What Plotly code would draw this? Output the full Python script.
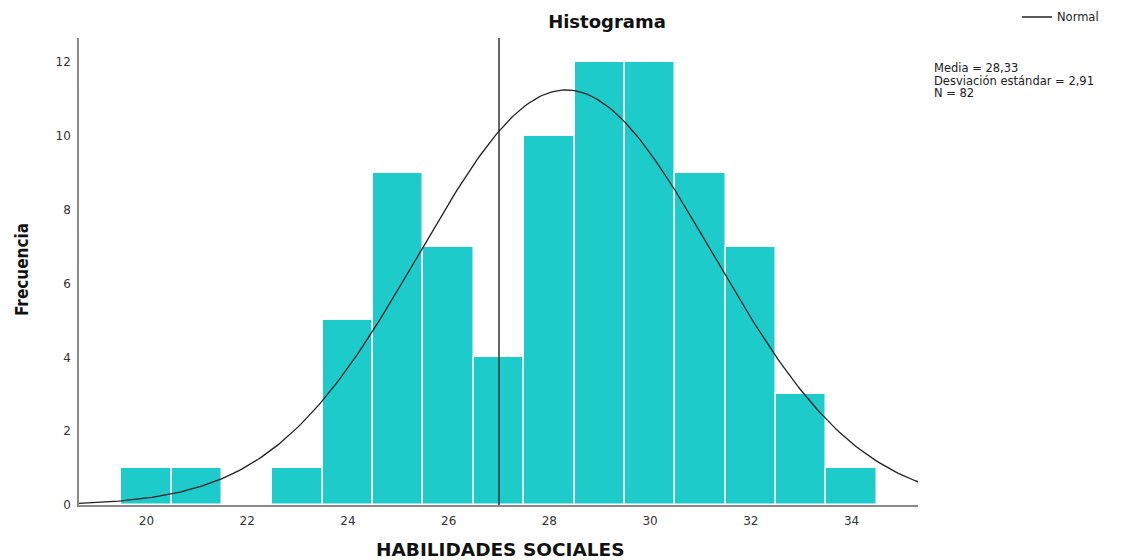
import numpy as np
import plotly.graph_objects as go

# datos del histograma
valores = [20, 21, 22, 23, 24, 25, 26, 27, 28, 29, 30, 31, 32, 33, 34]
frecuencias = [1, 1, 0, 1, 5, 9, 7, 4, 10, 12, 12, 9, 7, 3, 1]
media = 28.33
desviacion = 2.91
n_total = 82
valor_referencia = 27
x_ticks = [20, 22, 24, 26, 28, 30, 32, 34]
y_ticks = [0, 2, 4, 6, 8, 10, 12]

x_min, x_max = 18.66, 35.32
y_max = 12.65

fuente = "DejaVu Sans, Liberation Sans, Arial, sans-serif"

# curva normal a partir de media, desviación y N (ancho de intervalo = 1)
xs = np.linspace(x_min, x_max, 300)
ys = n_total * 1.0 / (desviacion * np.sqrt(2 * np.pi)) * np.exp(-0.5 * ((xs - media) / desviacion) ** 2)

fig = go.Figure()
fig.add_trace(go.Bar(
    x=valores, y=frecuencias, width=1,
    marker=dict(color="#1DCBCB", line=dict(color="white", width=1.5)),
    showlegend=False, hoverinfo="x+y",
))
fig.add_trace(go.Scatter(
    x=[valor_referencia, valor_referencia], y=[0, y_max], mode="lines",
    line=dict(color="#333333", width=1.5), showlegend=False,
))
fig.add_trace(go.Scatter(
    x=xs, y=ys, mode="lines", name="Normal",
    line=dict(color="#222222", width=1.3),
))

# la página deja 8px de margen en el body: se compensa aquí
fig.update_layout(
    width=1115, height=552,
    margin=dict(l=71, r=205, t=30, b=55, autoexpand=False),
    plot_bgcolor="white", paper_bgcolor="white",
    font=dict(family=fuente, size=12, color="#333333"),
    bargap=0,
    title=dict(text="<b>Histograma</b>", x=599 / 1115, xanchor="center",
               y=1 - 14 / 552, yanchor="middle",
               font=dict(size=18, color="#111111")),
    legend=dict(x=1.118, y=1.045, xanchor="left", yanchor="middle",
                font=dict(size=11.5, color="#222222"), bgcolor="rgba(0,0,0,0)",
                itemwidth=30),
    xaxis=dict(range=[x_min, x_max], tickvals=x_ticks, showgrid=False,
               zeroline=False, showline=True, linecolor="#8a8a8a", linewidth=1.5,
               ticks="", automargin=False, ticklabelstandoff=4,
               tickfont=dict(size=12, color="#333333")),
    yaxis=dict(range=[0, y_max], tickvals=y_ticks, showgrid=False,
               zeroline=False, showline=True, linecolor="#8a8a8a", linewidth=1.5,
               ticks="", automargin=False, ticklabelstandoff=4,
               tickfont=dict(size=12, color="#333333")),
)

# títulos de ejes
fig.add_annotation(text="<b>HABILIDADES SOCIALES</b>", xref="paper", yref="paper",
                   x=(499.5 - 79) / 839, y=(505 - 549) / 467, showarrow=False,
                   xanchor="center", yanchor="middle",
                   font=dict(size=18.5, color="#111111"))
fig.add_annotation(text="<b>Frecuencia</b>", xref="paper", yref="paper",
                   x=(22 - 79) / 839, y=(505 - 270) / 467, showarrow=False,
                   textangle=-90, xanchor="center", yanchor="middle",
                   font=dict(size=17, color="#111111",
                             family="DejaVu Sans Condensed, Liberation Sans Narrow, DejaVu Sans, sans-serif"))

lineas = ["Media = 28,33", "Desviación estándar = 2,91", "N = 82"]
for i, texto in enumerate(lineas):
    fig.add_annotation(text=texto, xref="paper", yref="paper",
                       x=(932 - 79) / 839, y=(505 - (68 + 12.5 * i)) / 467,
                       xanchor="left", yanchor="middle", showarrow=False,
                       font=dict(size=11.5, color="#222222"))

fig.write_html("out.html")
